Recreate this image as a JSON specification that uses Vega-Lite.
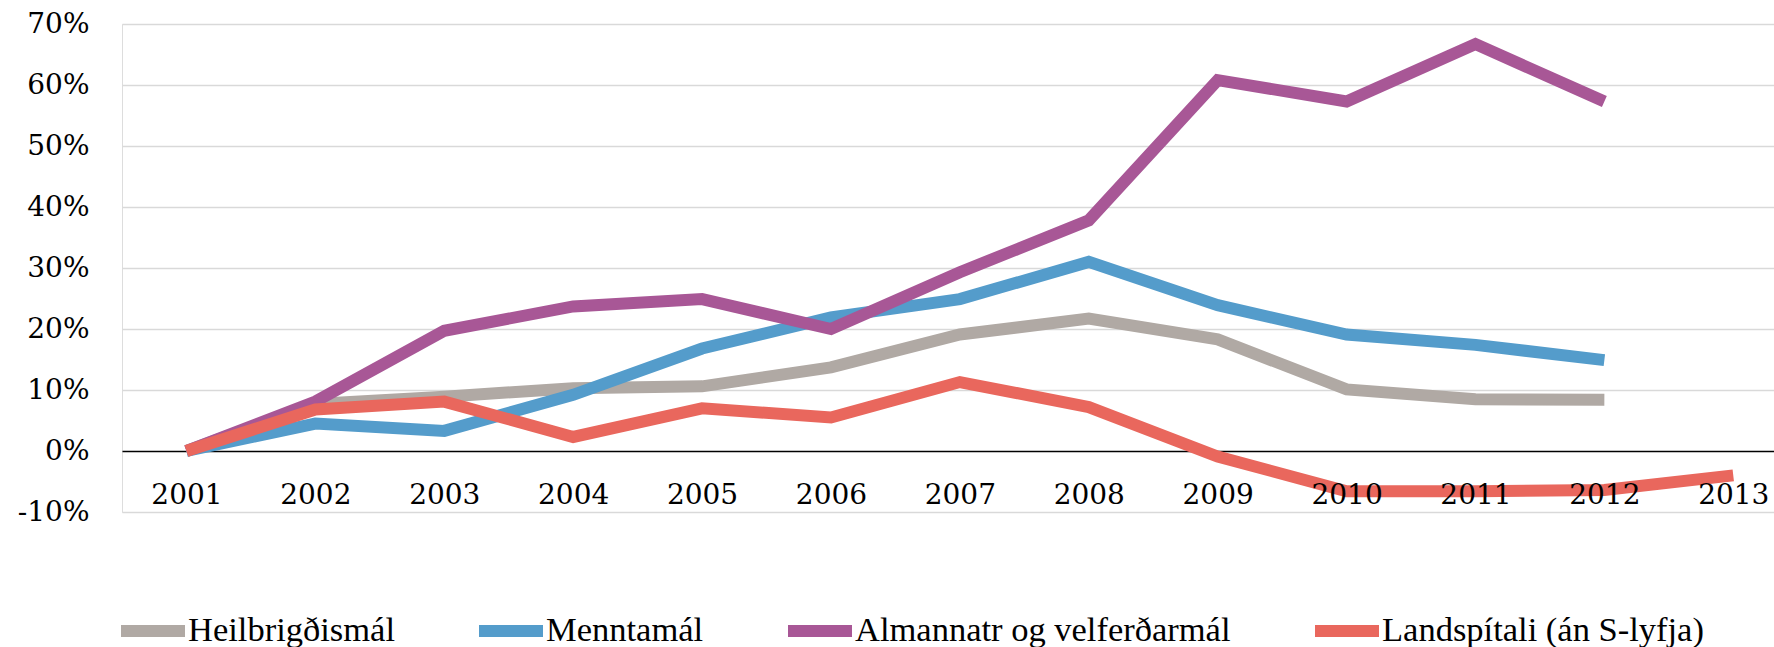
{
  "$schema": "https://vega.github.io/schema/vega-lite/v6.json",
  "autosize": {"type": "none"},
  "padding": {"left": 122, "top": 24, "right": 0, "bottom": 135},
  "width": 1652,
  "height": 488,
  "background": "white",
  "data": {
    "values": [
      {"series": "Heilbrigðismál", "year": 2001, "value": 0},
      {"series": "Heilbrigðismál", "year": 2002, "value": 0.077},
      {"series": "Heilbrigðismál", "year": 2003, "value": 0.089},
      {"series": "Heilbrigðismál", "year": 2004, "value": 0.103},
      {"series": "Heilbrigðismál", "year": 2005, "value": 0.106},
      {"series": "Heilbrigðismál", "year": 2006, "value": 0.137},
      {"series": "Heilbrigðismál", "year": 2007, "value": 0.191},
      {"series": "Heilbrigðismál", "year": 2008, "value": 0.217},
      {"series": "Heilbrigðismál", "year": 2009, "value": 0.183},
      {"series": "Heilbrigðismál", "year": 2010, "value": 0.101},
      {"series": "Heilbrigðismál", "year": 2011, "value": 0.085},
      {"series": "Heilbrigðismál", "year": 2012, "value": 0.084},
      {"series": "Menntamál", "year": 2001, "value": 0},
      {"series": "Menntamál", "year": 2002, "value": 0.045},
      {"series": "Menntamál", "year": 2003, "value": 0.033},
      {"series": "Menntamál", "year": 2004, "value": 0.092},
      {"series": "Menntamál", "year": 2005, "value": 0.168},
      {"series": "Menntamál", "year": 2006, "value": 0.219},
      {"series": "Menntamál", "year": 2007, "value": 0.249},
      {"series": "Menntamál", "year": 2008, "value": 0.31},
      {"series": "Menntamál", "year": 2009, "value": 0.239},
      {"series": "Menntamál", "year": 2010, "value": 0.191},
      {"series": "Menntamál", "year": 2011, "value": 0.174},
      {"series": "Menntamál", "year": 2012, "value": 0.149},
      {"series": "Almannatr og velferðarmál", "year": 2001, "value": 0},
      {"series": "Almannatr og velferðarmál", "year": 2002, "value": 0.081},
      {"series": "Almannatr og velferðarmál", "year": 2003, "value": 0.197},
      {"series": "Almannatr og velferðarmál", "year": 2004, "value": 0.237},
      {"series": "Almannatr og velferðarmál", "year": 2005, "value": 0.249},
      {"series": "Almannatr og velferðarmál", "year": 2006, "value": 0.2},
      {"series": "Almannatr og velferðarmál", "year": 2007, "value": 0.293},
      {"series": "Almannatr og velferðarmál", "year": 2008, "value": 0.378},
      {"series": "Almannatr og velferðarmál", "year": 2009, "value": 0.608},
      {"series": "Almannatr og velferðarmál", "year": 2010, "value": 0.573},
      {"series": "Almannatr og velferðarmál", "year": 2011, "value": 0.667},
      {"series": "Almannatr og velferðarmál", "year": 2012, "value": 0.573},
      {"series": "Landspítali (án S-lyfja)", "year": 2001, "value": 0},
      {"series": "Landspítali (án S-lyfja)", "year": 2002, "value": 0.068},
      {"series": "Landspítali (án S-lyfja)", "year": 2003, "value": 0.081},
      {"series": "Landspítali (án S-lyfja)", "year": 2004, "value": 0.023},
      {"series": "Landspítali (án S-lyfja)", "year": 2005, "value": 0.07},
      {"series": "Landspítali (án S-lyfja)", "year": 2006, "value": 0.055},
      {"series": "Landspítali (án S-lyfja)", "year": 2007, "value": 0.113},
      {"series": "Landspítali (án S-lyfja)", "year": 2008, "value": 0.072},
      {"series": "Landspítali (án S-lyfja)", "year": 2009, "value": -0.009},
      {"series": "Landspítali (án S-lyfja)", "year": 2010, "value": -0.066},
      {"series": "Landspítali (án S-lyfja)", "year": 2011, "value": -0.066},
      {"series": "Landspítali (án S-lyfja)", "year": 2012, "value": -0.064},
      {"series": "Landspítali (án S-lyfja)", "year": 2013, "value": -0.04}
    ]
  },
  "layer": [
    {
      "mark": {"type": "line", "strokeWidth": 12, "strokeCap": "butt", "strokeJoin": "miter"},
      "encoding": {
        "x": {
          "field": "year",
          "type": "quantitative",
          "scale": {"domain": [2000.5, 2013.316], "nice": false, "zero": false},
          "axis": {
            "title": null,
            "values": [2001, 2002, 2003, 2004, 2005, 2006, 2007, 2008, 2009, 2010, 2011, 2012, 2013],
            "format": "d",
            "domain": false,
            "ticks": false,
            "tickSize": 0,
            "grid": false,
            "zindex": 1,
            "labelFlush": false,
            "labelFont": "DejaVu Serif",
            "labelFontSize": 28,
            "labelColor": "#000000",
            "labelBaseline": "alphabetic",
            "labelPadding": -9
          }
        },
        "y": {
          "field": "value",
          "type": "quantitative",
          "scale": {"domain": [-0.1, 0.7], "nice": false, "zero": false},
          "axis": {
            "title": null,
            "values": [-0.1, 0, 0.1, 0.2, 0.3, 0.4, 0.5, 0.6, 0.7],
            "format": ".0%",
            "labelExpr": "replace(datum.label, '−', '-')",
            "domain": false,
            "ticks": false,
            "tickSize": 0,
            "grid": true,
            "gridColor": {"condition": {"test": "datum.value === 0", "value": "#000000"}, "value": "#d9d9d9"},
            "gridWidth": 1.5,
            "labelFont": "DejaVu Serif",
            "labelFontSize": 28,
            "labelColor": "#000000",
            "labelPadding": 33
          }
        },
        "color": {
          "field": "series",
          "type": "nominal",
          "sort": null,
          "scale": {
            "domain": ["Heilbrigðismál", "Menntamál", "Almannatr og velferðarmál", "Landspítali (án S-lyfja)"],
            "range": ["#b0a9a4", "#549ccb", "#a85796", "#e9675d"]
          },
          "legend": {
            "title": null,
            "orient": "none",
            "direction": "horizontal",
            "legendX": -7,
            "legendY": 569,
            "symbolType": "stroke",
            "symbolSize": 4096,
            "symbolStrokeWidth": 12,
            "labelFont": "Liberation Serif",
            "labelFontSize": 34.5,
            "labelColor": "#000000",
            "labelLimit": 1000,
            "labelOffset": -3,
            "columnPadding": 60
          }
        }
      }
    }
  ]
}
